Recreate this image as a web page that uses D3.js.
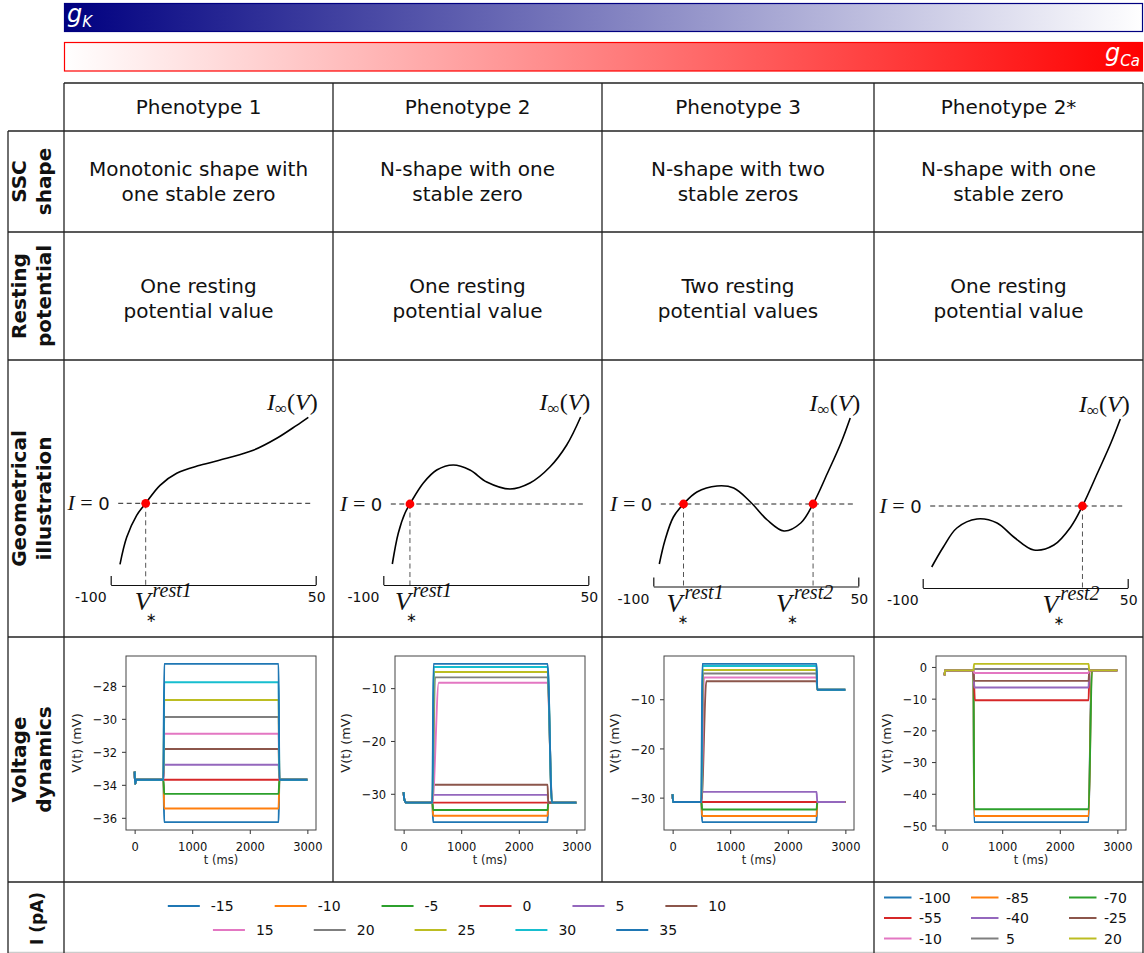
<!DOCTYPE html>
<html>
<head>
<meta charset="utf-8">
<script src="https://cdn.jsdelivr.net/npm/d3@7"></script>
<style>
  html, body { margin: 0; padding: 0; background: #fff; }
  svg { display: block; font-family: "DejaVu Sans", sans-serif; }
</style>
</head>
<body>
<svg id="fig" width="1144" height="953"></svg>
<script>
// ---------------- table content ----------------
const phenotypes = ["Phenotype 1", "Phenotype 2", "Phenotype 3", "Phenotype 2*"];
const rowLabels = [["SSC", "shape"], ["Resting", "potential"], ["Geometrical", "illustration"], ["Voltage", "dynamics"], ["I (pA)"]];
const sscText = [["Monotonic shape with", "one stable zero"], ["N-shape with one", "stable zero"], ["N-shape with two", "stable zeros"], ["N-shape with one", "stable zero"]];
const restText = [["One resting", "potential value"], ["One resting", "potential value"], ["Two resting", "potential values"], ["One resting", "potential value"]];

// ---------------- steady-state current curves I_inf(V) (V in mV, I in a.u.) ----------------
const ssc1V = [-93.2, -88.3, -81.0, -74.4, -63.9, -51.7, -34.7, -15.1, 4.3, 21.5, 36.1, 44.6];
const ssc1I = [-6.1, -3.4, -1.2, 0, 1.8, 3.0, 3.8, 4.5, 5.3, 6.5, 7.8, 8.6];
const ssc2V = [-93.4, -89.0, -84.1, -80.5, -70.7, -60.9, -48.8, -36.6, -24.3, -7.3, 7.3, 21.9, 34.2, 44.4];
const ssc2I = [-6.0, -2.9, -0.9, 0, 2.1, 3.4, 3.9, 3.4, 2.2, 1.5, 2.1, 3.7, 5.9, 8.7];
const ssc3V = [-95.6, -91.4, -85.3, -77.9, -68.1, -53.4, -41.2, -28.9, -16.6, -4.4, 7.9, 16.9, 27.5, 37.3, 44.1];
const ssc3I = [-6.0, -3.6, -1.3, 0, 1.2, 1.8, 1.6, 0.2, -1.6, -2.7, -1.9, 0, 3.1, 6.1, 8.6];
const ssc4V = [-93.4, -84.9, -75.0, -60.3, -45.6, -33.4, -18.7, -4.0, 8.3, 16.9, 27.9, 37.7, 44.6];
const ssc4I = [-6.1, -4.1, -2.2, -1.3, -1.7, -3.1, -4.4, -3.9, -2.1, 0, 3.3, 6.3, 8.7];
// stable zeros of each curve
const zeros1 = [{ v: -74.4, name: "rest1" }];
const zeros2 = [{ v: -80.5, name: "rest1" }];
const zeros3 = [{ v: -77.9, name: "rest1" }, { v: 16.9, name: "rest2" }];
const zeros4 = [{ v: 16.9, name: "rest2" }];
const vAxisTicks = [-100, 50];

// ---------------- current-clamp traces ----------------
const tProtocol = [0, 500, 2500, 3000];            // step on at 500 ms, off at 2500 ms
const timeTicks = [0, 1000, 2000, 3000];
const currentsA = [-15, -10, -5, 0, 5, 10, 15, 20, 25, 30, 35];
const currentsB = [-100, -85, -70, -55, -40, -25, -10, 5, 20];

// phenotype 1
const v1Init = [[0, -33.2], [8, -33.95], [30, -33.69]];
const v1Rest = -33.69;
const v1Step = [-36.26, -35.44, -34.55, -33.69, -32.78, -31.83, -30.90, -29.89, -28.86, -27.78, -26.67];
const v1After = [-33.69, -33.69, -33.69, -33.69, -33.69, -33.69, -33.69, -33.69, -33.69, -33.69, -33.69];
const v1On = [14, 14, 14, 14, 14, 14, 14, 14, 14, 14, 14];
const v1Off = [14, 14, 14, 14, 14, 14, 14, 14, 14, 14, 14];
const v1Ticks = [-36, -34, -32, -30, -28];

// phenotype 2
const v2Init = [[0, -29.7], [12, -31.1], [50, -31.67]];
const v2Rest = -31.67;
const v2Step = [-35.36, -34.15, -33.07, -31.67, -30.2, -28.28, -8.98, -7.96, -6.94, -5.99, -5.41];
const v2After = [-31.67, -31.67, -31.67, -31.67, -31.67, -31.67, -31.67, -31.67, -31.67, -31.67, -31.67];
const v2On = [12, 12, 12, 12, 12, 12, 110, 45, 30, 22, 18];
const v2Off = [12, 12, 12, 12, 12, 12, 80, 78, 76, 76, 75];
const v2Ticks = [-30, -20, -10];

// phenotype 3
const v3Init = [[0, -29.3], [5, -30.9]];
const v3Rest = -30.9;
const v3Step = [-34.97, -33.73, -32.4, -30.9, -28.83, -6.33, -5.59, -4.76, -4.07, -3.24, -2.82];
const v3After = [-30.9, -30.9, -30.9, -30.9, -30.9, -8.07, -8.07, -8.07, -8.07, -8.07, -8.07];
const v3On = [12, 12, 12, 12, 12, 85, 45, 30, 22, 18, 15];
const v3Off = [12, 12, 12, 12, 12, 12, 12, 12, 12, 12, 12];
const v3Ticks = [-30, -20, -10];

// phenotype 2*
const v4Init = [[0, -2.6], [6, -1.07]];
const v4Rest = -1.07;
const v4Step = [-48.93, -47.0, -44.87, -10.5, -6.5, -4.4, -1.92, -0.64, 0.96];
const v4After = [-1.07, -1.07, -1.07, -1.07, -1.07, -1.07, -1.07, -1.07, -1.07];
const v4On = [12, 12, 15, 25, 15, 12, 12, 12, 12];
const v4Off = [50, 55, 60, 15, 12, 12, 12, 12, 12];
const v4Ticks = [-50, -40, -30, -20, -10, 0];

// ---------------- drawing ----------------
const svg = d3.select("#fig");
const SANS = "DejaVu Sans", MATH = "Liberation Serif";
const palette = d3.schemeCategory10;
const INK = "#111";

// conductance gradient bars
const defs = svg.append("defs");
function gradient(id, from, to) {
  const g = defs.append("linearGradient").attr("id", id);
  g.append("stop").attr("offset", "0%").attr("stop-color", from);
  g.append("stop").attr("offset", "100%").attr("stop-color", to);
}
gradient("gradK", "#000080", "#ffffff");
gradient("gradCa", "#ffffff", "#ff0000");
svg.append("rect").attr("x", 64.5).attr("y", 3.5).attr("width", 1078).attr("height", 28)
  .attr("fill", "url(#gradK)").attr("stroke", "#000080").attr("stroke-width", 1.2);
svg.append("rect").attr("x", 64.5).attr("y", 42.5).attr("width", 1078).attr("height", 28.5)
  .attr("fill", "url(#gradCa)").attr("stroke", "#ff0000").attr("stroke-width", 1.2);
const lk = svg.append("text").attr("x", 67).attr("y", 22).attr("fill", "#fff")
  .attr("font-style", "italic").attr("font-size", 24);
lk.append("tspan").text("g");
lk.append("tspan").attr("font-size", 15).attr("dy", 5).text("K");
const lca = svg.append("text").attr("x", 1140).attr("y", 61).attr("fill", "#fff")
  .attr("text-anchor", "end").attr("font-style", "italic").attr("font-size", 24);
lca.append("tspan").text("g");
lca.append("tspan").attr("font-size", 15).attr("dy", 5).text("Ca");

// table grid
const colX = [64, 333, 602, 874, 1143];
const rowY = [83, 131, 232, 360, 637, 882, 953];
const leftX = 8;
const grid = svg.append("g").attr("stroke", "#222").attr("stroke-width", 1.3).attr("fill", "none");
function hline(y, x1, x2, c) { grid.append("line").attr("x1", x1).attr("x2", x2).attr("y1", y).attr("y2", y).attr("stroke", c || null); }
function vline(x, y1, y2) { grid.append("line").attr("x1", x).attr("x2", x).attr("y1", y1).attr("y2", y2); }
hline(rowY[0], colX[0], colX[4]);
for (let i = 1; i <= 5; i++) hline(rowY[i], leftX, colX[4]);
hline(952.5, leftX, colX[4], "#ccc");
vline(leftX, rowY[1], 953);
vline(colX[0], rowY[0], 953);
vline(colX[1], rowY[0], rowY[5]);
vline(colX[2], rowY[0], rowY[5]);
vline(colX[3], rowY[0], 953);
vline(colX[4], rowY[0], 953);

// text helpers
function centerLines(cx, cy, lines, size, lh) {
  lines.forEach((s, i) => {
    svg.append("text").attr("x", cx).attr("y", cy + (i - (lines.length - 1) / 2) * lh + 0.36 * size)
      .attr("text-anchor", "middle").attr("font-size", size).attr("fill", INK).text(s);
  });
}
phenotypes.forEach((p, i) => centerLines((colX[i] + colX[i + 1]) / 2, (rowY[0] + rowY[1]) / 2, [p], 20, 25));
sscText.forEach((l, i) => centerLines((colX[i] + colX[i + 1]) / 2, (rowY[1] + rowY[2]) / 2, l, 20, 25));
restText.forEach((l, i) => centerLines((colX[i] + colX[i + 1]) / 2, 298.3, l, 20, 25));

// rotated row titles
rowLabels.forEach((lines, r) => {
  const cy = (rowY[r + 1] + rowY[r + 2]) / 2;
  const xs = lines.length === 2 ? [26, 51] : [43];
  lines.forEach((s, i) => {
    svg.append("text").attr("transform", `translate(${xs[i]},${cy + (lines.length === 1 ? 1 : 0)}) rotate(-90)`)
      .attr("text-anchor", "middle").attr("font-size", lines.length === 1 ? 17 : 20).attr("font-weight", "bold")
      .attr("fill", INK).text(s);
  });
});

// ---------------- geometrical illustration ----------------
const geo = [
  { V: ssc1V, I: ssc1I, zeros: zeros1, ax0: 110.7, axY: 585, zeroY: 503.3, lblDx: [-11] },
  { V: ssc2V, I: ssc2I, zeros: zeros2, ax0: 383.3, axY: 585, zeroY: 504, lblDx: [-15] },
  { V: ssc3V, I: ssc3I, zeros: zeros3, ax0: 653.3, axY: 586.5, zeroY: 504, lblDx: [-17, -37] },
  { V: ssc4V, I: ssc4I, zeros: zeros4, ax0: 922.7, axY: 588, zeroY: 506, lblDx: [-40] }
];
geo.forEach(p => {
  const g = svg.append("g");
  const x = d3.scaleLinear().domain([-100, 50]).range([p.ax0, p.ax0 + 205]);
  const y = d3.scaleLinear().domain([0, 1]).range([p.zeroY, p.zeroY - 10]);

  // V axis with end ticks pointing up
  const ax = g.append("g").attr("transform", `translate(0,${p.axY})`)
    .call(d3.axisBottom(x).tickValues(vAxisTicks).tickSizeInner(-9).tickSizeOuter(0).tickFormat(""));
  ax.select(".domain").attr("stroke", "#111").attr("stroke-width", 1.2);
  ax.selectAll(".tick line").attr("stroke", "#111").attr("stroke-width", 1.2);
  g.append("text").attr("x", x(-100) - 4).attr("y", p.axY + 17).attr("text-anchor", "end")
    .attr("font-size", 14).attr("fill", INK).text(vAxisTicks[0]);
  g.append("text").attr("x", x(50) + 1).attr("y", p.axY + 17).attr("text-anchor", "middle")
    .attr("font-size", 14).attr("fill", INK).text(vAxisTicks[1]);

  // I = 0 reference line
  g.append("line").attr("x1", x(-94.5)).attr("x2", x(46.5)).attr("y1", y(0)).attr("y2", y(0))
    .attr("stroke", "#222").attr("stroke-width", 1).attr("stroke-dasharray", "5,3.5");
  const t0 = g.append("text").attr("x", p.ax0 - 1).attr("y", y(0) + 7).attr("text-anchor", "end")
    .attr("fill", INK);
  t0.append("tspan").attr("font-family", MATH).attr("font-style", "italic").attr("font-size", 22).text("I");
  t0.append("tspan").attr("font-family", MATH).attr("font-size", 22).text(" = ");
  t0.append("tspan").attr("font-family", SANS).attr("font-size", 18).text("0");

  // I_inf(V) curve
  const pts = p.V.map((v, i) => [x(v), y(p.I[i])]);
  g.append("path").attr("d", d3.line().curve(d3.curveCatmullRom.alpha(0.5))(pts))
    .attr("fill", "none").attr("stroke", "#000").attr("stroke-width", 1.6);
  const last = pts[pts.length - 1];
  const tl = g.append("text").attr("x", x(50) + 2).attr("y", last[1] - 7).attr("text-anchor", "end")
    .attr("font-size", 24).attr("font-family", MATH).attr("fill", INK);
  tl.append("tspan").attr("font-style", "italic").text("I");
  tl.append("tspan").attr("font-size", 17).attr("dy", 4).text("\u221E");
  tl.append("tspan").attr("dy", -4).text("(");
  tl.append("tspan").attr("font-style", "italic").text("V");
  tl.append("tspan").text(")");

  // stable zeros
  p.zeros.forEach((z, k) => {
    g.append("line").attr("x1", x(z.v)).attr("x2", x(z.v)).attr("y1", y(0)).attr("y2", p.axY)
      .attr("stroke", "#555").attr("stroke-width", 1).attr("stroke-dasharray", "5,3.5");
    g.append("circle").attr("cx", x(z.v)).attr("cy", y(0)).attr("r", 4.4).attr("fill", "#ff0000");
    const lx = x(z.v) + p.lblDx[k], base = p.axY + 25;
    // V_*^{rest}: symbol, superscript and subscript set as one label
    const lab = g.append("text").attr("x", lx).attr("y", base).attr("font-family", MATH)
      .attr("font-style", "italic").attr("font-size", 26).attr("fill", INK);
    lab.append("tspan").text("V");
    lab.append("tspan").attr("font-size", 20).attr("dx", 2).attr("dy", -13).text(z.name);
    g.append("text").attr("x", lx + 11).attr("y", base + 12).attr("font-family", SANS)
      .attr("font-size", 13).attr("fill", INK).text("\u2217");
  });
});

// ---------------- voltage dynamics ----------------
const volt = [
  { init: v1Init, rest: v1Rest, step: v1Step, after: v1After, on: v1On, off: v1Off, ticks: v1Ticks },
  { init: v2Init, rest: v2Rest, step: v2Step, after: v2After, on: v2On, off: v2Off, ticks: v2Ticks },
  { init: v3Init, rest: v3Rest, step: v3Step, after: v3After, on: v3On, off: v3Off, ticks: v3Ticks },
  { init: v4Init, rest: v4Rest, step: v4Step, after: v4After, on: v4On, off: v4Off, ticks: v4Ticks }
];
const AX_W = 190, AX_TOP = 656, AX_BOT = 830, SY = 1.12;
volt.forEach((p, i) => {
  const left = colX[i] + 62;
  const g = svg.append("g");
  const traces = p.step.map((s, k) => [
    ...p.init,
    [tProtocol[1], p.rest],
    [tProtocol[1] + p.on[k], s],
    [tProtocol[2], s],
    [tProtocol[2] + p.off[k], p.after[k]],
    [tProtocol[3], p.after[k]]
  ]);
  const allV = traces.flat().map(d => d[1]);
  const [lo, hi] = d3.extent(allV);
  const pad = (hi - lo) * 0.05;
  const x = d3.scaleLinear().domain([-150, 3150]).range([left, left + AX_W]);
  const y = d3.scaleLinear().domain([lo - pad, hi + pad]).range([AX_BOT, AX_TOP]);
  const line = d3.line().x(d => x(d[0])).y(d => y(d[1])).curve(d3.curveMonotoneX);

  traces.forEach((tr, k) => {
    g.append("path").attr("d", line(tr)).attr("fill", "none")
      .attr("stroke", palette[k % 10]).attr("stroke-width", 1.9);
  });

  // axes
  const fmt = d3.format("d");
  const xa = g.append("g").attr("transform", `translate(0,${AX_BOT})`)
    .call(d3.axisBottom(x).tickValues(timeTicks).tickSize(4).tickFormat(fmt));
  const ya = g.append("g").attr("transform", `translate(${left},0)`)
    .call(d3.axisLeft(y).tickValues(p.ticks).tickSize(4).tickFormat(fmt));
  [xa, ya].forEach(a => {
    a.select(".domain").remove();
    a.selectAll(".tick line").attr("stroke", "#333");
    a.selectAll(".tick text").attr("font-size", 11.5).attr("font-family", SANS).attr("fill", "#111");
  });
  xa.selectAll(".tick text").attr("y", null).attr("dy", null)
    .attr("transform", `translate(0,20.5) scale(1,${SY})`);
  ya.selectAll(".tick text").attr("x", null).attr("dy", null)
    .attr("transform", `translate(-9,${0.36 * 11.5 * SY}) scale(1,${SY})`);
  g.append("rect").attr("x", left).attr("y", AX_TOP).attr("width", AX_W).attr("height", AX_BOT - AX_TOP)
    .attr("fill", "none").attr("stroke", "#444").attr("stroke-width", 1);

  g.append("text").attr("transform", `translate(${left + AX_W / 2},${AX_BOT + 34}) scale(1,${SY})`)
    .attr("text-anchor", "middle").attr("font-size", 11.5).attr("fill", "#222").text("t (ms)");
  g.append("text").attr("transform", `translate(${left - 45},${(AX_TOP + AX_BOT) / 2}) rotate(-90) scale(${SY},1)`)
    .attr("text-anchor", "middle").attr("font-size", 11.5).attr("fill", "#222").text("V(t) (mV)");
});

// ---------------- legends ----------------
function legendRow(items, y, cx, gap) {
  const g = svg.append("g");
  let xPos = 0;
  items.forEach(it => {
    g.append("line").attr("x1", xPos).attr("x2", xPos + 32).attr("y1", y).attr("y2", y)
      .attr("stroke", it.color).attr("stroke-width", 2);
    const t = g.append("text").attr("x", xPos + 43).attr("y", y + 5).attr("font-size", 14)
      .attr("fill", INK).text(it.label);
    xPos += 43 + t.node().getComputedTextLength() + gap;
  });
  const width = xPos - gap;
  g.attr("transform", `translate(${cx - width / 2},0)`);
}
const legA = currentsA.map((c, k) => ({ label: c, color: palette[k % 10] }));
legendRow(legA.slice(0, 6), 906, 447, 41);
legendRow(legA.slice(6), 930, 445, 40);

const legBCols = [884, 971, 1069];
const legBRows = [897.5, 918, 938.5];
currentsB.forEach((c, k) => {
  const cx = legBCols[k % 3], cy = legBRows[Math.floor(k / 3)];
  svg.append("line").attr("x1", cx).attr("x2", cx + 27.5).attr("y1", cy).attr("y2", cy)
    .attr("stroke", palette[k % 10]).attr("stroke-width", 2);
  svg.append("text").attr("x", cx + 35).attr("y", cy + 5).attr("font-size", 14)
    .attr("fill", INK).text(c);
});
</script>
</body>
</html>
